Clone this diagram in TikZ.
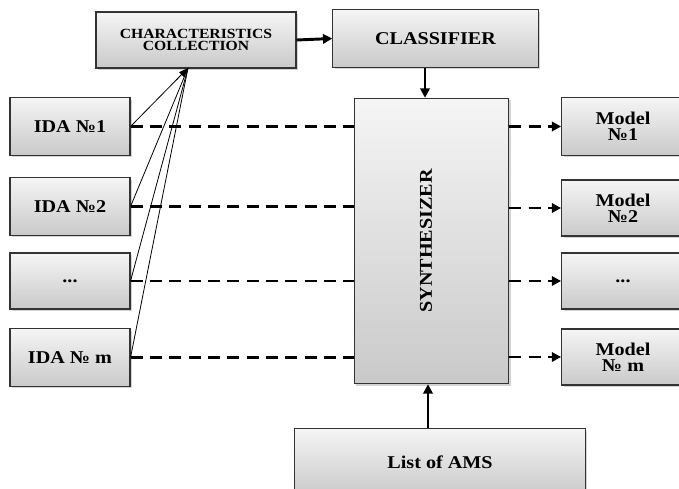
\documentclass[tikz,border=0pt]{standalone}
\usepackage{fontspec}
\setmainfont[FakeStretch=1.12]{Liberation Serif}
\usetikzlibrary{shadows,arrows.meta,calc}
\begin{document}
\begin{tikzpicture}[x=0.75pt,y=-0.75pt,
  blk/.style={draw=black!80,line width=0.8pt,top color=gray!8,bottom color=gray!42,
    drop shadow={shadow xshift=1.5pt,shadow yshift=-1.5pt,opacity=0.35},
    font=\bfseries,align=center,inner sep=0pt},
  big/.style={font=\fontsize{13.5}{12}\selectfont\bfseries},
  dsh/.style={line width=2pt,dash pattern=on 9pt off 5.5pt},
  thick arr/.style={line width=2.2pt,-{Triangle[length=7pt,width=7pt]}},
  thin arr/.style={line width=0.6pt}]
\useasboundingbox (0,0) rectangle (679,489);
% boxes
\node[blk,minimum width=150pt,minimum height=42pt,font=\fontsize{10.5}{9}\selectfont\bfseries] (cc) at (196,40) {CHARACTERISTICS\\COLLECTION};
\node[blk,minimum width=154pt,minimum height=43pt,big] (cl) at (435.5,38.5) {CLASSIFIER};
\node[blk,minimum width=116pt,minimum height=214pt] (sy) at (431.5,241) {};
\node[rotate=90,big] (syt) at (426,241) {SYNTHESIZER};
\node[blk,minimum width=90pt,minimum height=43pt,big] (i1) at (70,126.5) {IDA №1};
\node[blk,minimum width=90pt,minimum height=43pt,big] (i2) at (70,206.5) {IDA №2};
\node[blk,minimum width=90pt,minimum height=42pt,big] (i3) at (70,281) {...};
\node[blk,minimum width=90pt,minimum height=43pt,big] (im) at (70,357.5) {IDA № m};
\node[blk,minimum width=92pt,minimum height=43pt,big] (m1) at (623,126.5) {Model\\№1};
\node[blk,minimum width=92pt,minimum height=42pt,big] (m2) at (623,208) {Model\\№2};
\node[blk,minimum width=92pt,minimum height=42pt,big] (m3) at (623,281) {...};
\node[blk,minimum width=92pt,minimum height=42pt,big] (mm) at (623,357) {Model\\№ m};
\node[blk,minimum width=218pt,minimum height=50pt,big] (la) at (440,462) {List of AMS};
% solid arrows
\draw[thick arr] (cc.east) -- (cl.west);
\draw[thick arr] (cl.south -| 425,0) -- (sy.north -| 425,0);
\draw[thick arr] (la.north -| 428,0) -- (sy.south -| 428,0);
% converging lines
\coordinate (tip) at (188,68);
\foreach \n in {i1,i2,i3,im}{
  \draw[thin arr] (\n.east) -- (tip);
}
\draw[line width=0.6pt,-{Triangle[length=7pt,width=5pt]}] ($(i1.east)!0.8!(tip)$) -- (tip);
% dashed lines
\foreach \n in {i1,i2,i3,im}{
  \draw[dsh] (\n.east) -- (\n.east -| sy.west);
}
\foreach \m in {m1,m2,m3,mm}{
  \draw[dsh,-{Triangle[length=7pt,width=7pt]}] (\m.west -| sy.east) -- (\m.west);
}
\end{tikzpicture}
\end{document}
